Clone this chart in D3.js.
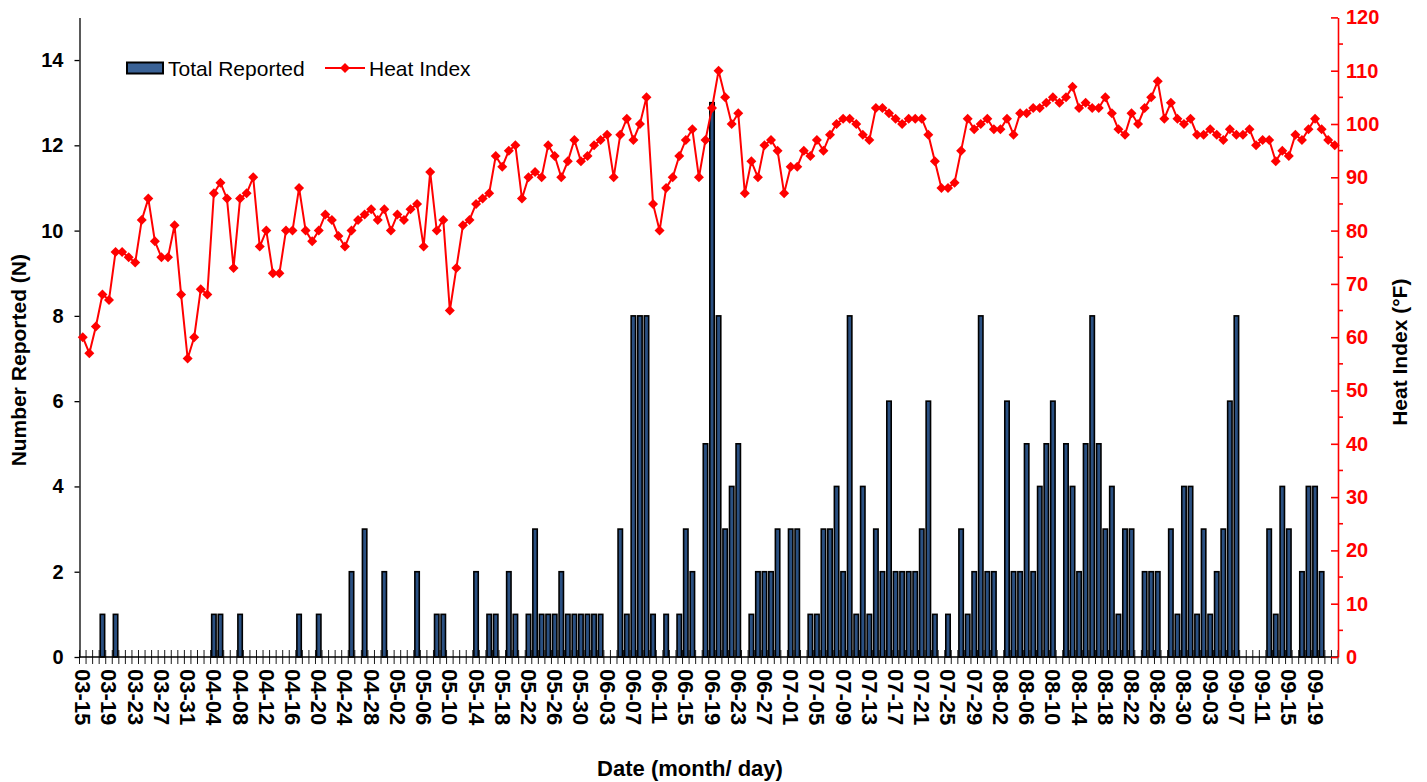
<!DOCTYPE html>
<html><head><meta charset="utf-8">
<script src="https://cdn.jsdelivr.net/npm/d3@7/dist/d3.min.js"></script>
<style>
body{margin:0;background:#fff}
text{font-family:"Liberation Sans",Arial,sans-serif}
</style>
</head><body>
<svg id="c" width="1427" height="782"></svg>
<script>
// ---------- DATA ----------
const firstDay = "03-15";           // first category (month-day)
const dayCount = 192;               // 03-15 ... 09-22
const labelEvery = 4;               // a tick label every 4th day

const totalReported = [
  0,0,0,1,0,1,0,0,0,0,0,0,0,0,0,0,
  0,0,0,0,1,1,0,0,1,0,0,0,0,0,0,0,
  0,1,0,0,1,0,0,0,0,2,0,3,0,0,2,0,
  0,0,0,2,0,0,1,1,0,0,0,0,2,0,1,1,
  0,2,1,0,1,3,1,1,1,2,1,1,1,1,1,1,
  0,0,3,1,8,8,8,1,0,1,0,1,3,2,0,5,
  13,8,3,4,5,0,1,2,2,2,3,0,3,3,0,1,
  1,3,3,4,2,8,1,4,1,3,2,6,2,2,2,2,
  3,6,1,0,1,0,3,1,2,8,2,2,0,6,2,2,
  5,2,4,5,6,0,5,4,2,5,8,5,3,4,1,3,
  3,0,2,2,2,0,3,1,4,4,1,3,1,2,3,6,
  8,0,0,0,0,3,1,4,3,0,2,4,4,2,0,0
];
const heatIndex = [
  60,57,62,68,67,76,76,75,74,82,86,78,75,75,81,68,
  56,60,69,68,87,89,86,73,86,87,90,77,80,72,72,80,
  80,88,80,78,80,83,82,79,77,80,82,83,84,82,84,80,
  83,82,84,85,77,91,80,82,65,73,81,82,85,86,87,94,
  92,95,96,86,90,91,90,96,94,90,93,97,93,94,96,97,
  98,90,98,101,97,100,105,85,80,88,90,94,97,99,90,97,
  103,110,105,100,102,87,93,90,96,97,95,87,92,92,95,94,
  97,95,98,100,101,101,100,98,97,103,103,102,101,100,101,101,
  101,98,93,88,88,89,95,101,99,100,101,99,99,101,98,102,
  102,103,103,104,105,104,105,107,103,104,103,103,105,102,99,98,
  102,100,103,105,108,101,104,101,100,101,98,98,99,98,97,99,
  98,98,99,96,97,97,93,95,94,98,97,99,101,99,97,96
];
const leftTicks = [0,2,4,6,8,10,12,14];
const rightTicks = [0,10,20,30,40,50,60,70,80,90,100,110,120];
const seriesNames = ["Total Reported","Heat Index"];
const axisTitles = {left:"Number Reported (N)", right:"Heat Index (°F)", bottom:"Date (month/ day)"};

// categories: consecutive days starting at firstDay
const fmt = d3.timeFormat("%m-%d");
const start = d3.timeParse("%Y-%m-%d")("2001-" + firstDay);
const categories = d3.timeDay.range(start, d3.timeDay.offset(start, dayCount)).map(fmt);

// ---------- LAYOUT ----------
const L = 79.5, R = 1338, T = 17.4, B = 657;
const FONT = '"Liberation Sans",Arial,sans-serif';
const svg = d3.select("#c");

const x = d3.scaleBand().domain(categories).range([L, R]).paddingInner(0).paddingOuter(0);
const yL = d3.scaleLinear().domain([0, 15]).range([B, T]);
const yR = d3.scaleLinear().domain([0, 120]).range([B, T]);
const cx = c => x(c) + x.bandwidth() / 2;

// bars
const barW = 4.4;
svg.append("g").selectAll("rect")
  .data(categories.map((c, i) => ({c, v: totalReported[i]})).filter(d => d.v > 0))
  .join("rect")
  .attr("x", d => cx(d.c) - barW / 2)
  .attr("y", d => yL(d.v))
  .attr("width", barW)
  .attr("height", d => yL(0) - yL(d.v))
  .attr("fill", "#2a5082")
  .attr("stroke", "#000")
  .attr("stroke-width", 1.6);

// x axis (category axis, a tick at every category boundary)
const gx = svg.append("g");
gx.append("line").attr("x1", L).attr("x2", R).attr("y1", B).attr("y2", B)
  .attr("stroke", "#000").attr("stroke-width", 1.3);
gx.selectAll("line.t").data(d3.range(categories.length + 1)).join("line")
  .attr("class", "t")
  .attr("x1", i => L + i * x.step()).attr("x2", i => L + i * x.step())
  .attr("y1", B - 7).attr("y2", B + 7)
  .attr("stroke", "#000").attr("stroke-width", 0.9);
gx.selectAll("text").data(categories.filter((c, i) => i % labelEvery === 0)).join("text")
  .attr("transform", c => `translate(${cx(c)},${B + 12}) rotate(90)`)
  .attr("text-anchor", "start").attr("dominant-baseline", "central")
  .attr("font-size", 22).attr("font-weight", "bold").attr("fill", "#000")
  .text(c => c);

// left axis
const gl = svg.append("g").attr("transform", `translate(${L},0)`)
  .call(d3.axisLeft(yL).tickValues(leftTicks).tickSizeInner(5).tickSizeOuter(0).tickPadding(11));
gl.select(".domain").attr("stroke", "#000").attr("stroke-width", 1.3);
gl.selectAll(".tick line").attr("stroke", "#000").attr("stroke-width", 1.3);
gl.selectAll(".tick text").attr("font-size", 20).attr("font-weight", "bold").attr("font-family", FONT).attr("fill", "#000");

// right axis
const gr = svg.append("g").attr("transform", `translate(${R},0)`)
  .call(d3.axisRight(yR).tickValues(rightTicks).tickSizeInner(-7).tickSizeOuter(0).tickPadding(8));
gr.select(".domain").attr("stroke", "#ff0000").attr("stroke-width", 1.6);
gr.selectAll(".tick line").attr("stroke", "#ff0000").attr("stroke-width", 1.6);
gr.selectAll(".tick text").attr("font-size", 20).attr("font-weight", "bold").attr("font-family", FONT).attr("fill", "#ff0000");
gr.selectAll("line.minor").data(d3.range(5, 120, 10)).join("line").attr("class", "minor")
  .attr("x1", 0).attr("x2", 5).attr("y1", d => yR(d)).attr("y2", d => yR(d))
  .attr("stroke", "#ff0000").attr("stroke-width", 1.6);

// heat index line
const line = d3.line().x((d, i) => cx(categories[i])).y(d => yR(d));
svg.append("path").datum(heatIndex).attr("d", line)
  .attr("fill", "none").attr("stroke", "#ff0000").attr("stroke-width", 2);
const diamond = d3.symbol(d3.symbolSquare, 50);
svg.append("g").selectAll("path").data(heatIndex).join("path")
  .attr("d", diamond)
  .attr("transform", (d, i) => `translate(${cx(categories[i])},${yR(d)}) rotate(45)`)
  .attr("fill", "#ff0000");

// axis titles
svg.append("text").attr("transform", `translate(26,${(T + B) / 2 + 23}) rotate(-90)`)
  .attr("text-anchor", "middle").attr("font-size", 21).attr("font-weight", "bold").text(axisTitles.left);
svg.append("text").attr("transform", `translate(1407,${(T + B) / 2 + 15}) rotate(-90)`)
  .attr("text-anchor", "middle").attr("font-size", 21).attr("font-weight", "bold").text(axisTitles.right);
svg.append("text").attr("x", 690).attr("y", 776)
  .attr("text-anchor", "middle").attr("font-size", 22).attr("font-weight", "bold").text(axisTitles.bottom);

// legend
const lg = svg.append("g");
lg.append("rect").attr("x", 127).attr("y", 62.5).attr("width", 36).attr("height", 11)
  .attr("fill", "#3a6296").attr("stroke", "#000").attr("stroke-width", 2);
lg.append("text").attr("x", 168).attr("y", 68).attr("dominant-baseline", "central")
  .attr("font-size", 21).text(seriesNames[0]);
lg.append("line").attr("x1", 325).attr("x2", 365).attr("y1", 68).attr("y2", 68)
  .attr("stroke", "#ff0000").attr("stroke-width", 2);
lg.append("path").attr("d", diamond).attr("transform", "translate(345,68) rotate(45)").attr("fill", "#ff0000");
lg.append("text").attr("x", 369).attr("y", 68).attr("dominant-baseline", "central")
  .attr("font-size", 21).text(seriesNames[1]);
</script>
</body></html>
